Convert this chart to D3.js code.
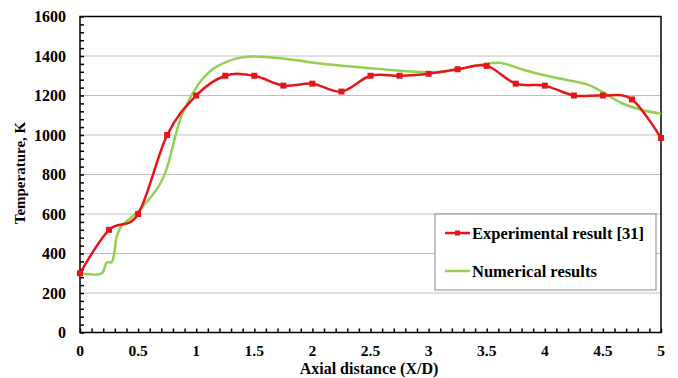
<!DOCTYPE html>
<html>
<head>
<meta charset="utf-8">
<script src="https://cdn.jsdelivr.net/npm/d3@7"></script>
<style>
  body { margin: 0; background: #fff; }
</style>
</head>
<body>
<div id="container"></div>
<script>
const width = 678;
const height = 378;

// experimental points (red)
const expX = [0, 0.25, 0.5, 0.75, 1, 1.25, 1.5, 1.75, 2, 2.25, 2.5, 2.75, 3, 3.25, 3.5, 3.75, 4, 4.25, 4.5, 4.75, 5];
const expT = [300, 520, 600, 1000, 1200, 1300, 1300, 1250, 1260, 1220, 1300, 1300, 1310, 1333, 1350, 1260, 1250, 1200, 1200, 1180, 985];

// numerical results (green)
const numX = [0, 0.187, 0.23, 0.273, 0.316, 0.345, 0.388, 0.5, 0.59, 0.675, 0.733, 0.776, 0.82, 0.862, 0.905, 0.963, 1.05, 1.135, 1.25, 1.35, 1.48, 1.78, 2.07, 2.36, 2.64, 2.93, 3.1, 3.28, 3.45, 3.62, 3.79, 3.97, 4.17, 4.37, 4.51, 4.66, 4.83, 5];
const numT = [300, 300, 354, 357, 486, 528, 557, 613, 672, 739, 807, 891, 993, 1078, 1137, 1204, 1281, 1331, 1368, 1388, 1398, 1385, 1362, 1345, 1331, 1319, 1319, 1335, 1356, 1365, 1335, 1306, 1281, 1255, 1213, 1162, 1128, 1108];

const xTicks = [0, 0.5, 1, 1.5, 2, 2.5, 3, 3.5, 4, 4.5, 5];
const yTicks = [0, 200, 400, 600, 800, 1000, 1200, 1400, 1600];

const x = d3.scaleLinear().domain([0, 5]).range([80, 661]);
const y = d3.scaleLinear().domain([0, 1600]).range([332.5, 16.5]);

const svg = d3.select("div#container")
    .append("svg")
    .attr("width", width)
    .attr("height", height)
    .attr("viewBox", [0, 0, width, height])
    .attr("font-family", "Liberation Serif, DejaVu Serif, serif")
    .attr("font-weight", "bold");

// gridlines
svg.append("g")
    .selectAll("line")
    .data(yTicks.filter(d => d > 0 && d < 1600))
    .join("line")
    .attr("x1", x(0)).attr("x2", x(5))
    .attr("y1", d => y(d)).attr("y2", d => y(d))
    .attr("stroke", "#c0c0c0")
    .attr("stroke-width", 1);

// frame
svg.append("rect")
    .attr("x", x(0)).attr("y", y(1600))
    .attr("width", x(5) - x(0)).attr("height", y(0) - y(1600))
    .attr("fill", "none")
    .attr("stroke", "#000")
    .attr("stroke-width", 1.5);

// minor ticks, pointing inward
svg.append("g")
    .call(d3.axisBottom(x).tickValues(d3.range(0, 51).map(i => i / 10)).tickSize(-4).tickFormat(""))
    .attr("transform", `translate(0,${y(0)})`)
    .call(g => g.select(".domain").remove())
    .call(g => g.selectAll(".tick line").attr("stroke", "#000").attr("stroke-width", 1.5));

svg.append("g")
    .call(d3.axisLeft(y).tickValues(d3.range(0, 41).map(i => i * 40)).tickSize(-4).tickFormat(""))
    .attr("transform", `translate(${x(0)},0)`)
    .call(g => g.select(".domain").remove())
    .call(g => g.selectAll(".tick line").attr("stroke", "#000").attr("stroke-width", 1.5));

// tick labels
svg.append("g")
    .selectAll("text")
    .data(xTicks)
    .join("text")
    .attr("x", d => x(d))
    .attr("y", 356)
    .attr("text-anchor", "middle")
    .attr("font-size", 15.5)
    .text(d => d);

svg.append("g")
    .selectAll("text")
    .data(yTicks)
    .join("text")
    .attr("x", 66)
    .attr("y", d => y(d))
    .attr("dy", "0.35em")
    .attr("text-anchor", "end")
    .attr("font-size", 16)
    .text(d => d);

// axis titles
svg.append("text")
    .attr("x", 369).attr("y", 374)
    .attr("text-anchor", "middle")
    .attr("font-size", 16)
    .text("Axial distance (X/D)");

svg.append("text")
    .attr("transform", "translate(25,173) rotate(-90)")
    .attr("text-anchor", "middle")
    .attr("font-size", 15)
    .text("Temperature, K");

// lines
const numLine = d3.line().x(d => x(d[0])).y(d => y(d[1])).curve(d3.curveCatmullRom.alpha(0.5));
const expLine = d3.line().x(d => x(d[0])).y(d => y(d[1])).curve(d3.curveCardinal.tension(0));

const numData = numX.map((v, i) => [v, numT[i]]);
const expData = expX.map((v, i) => [v, expT[i]]);

svg.append("path")
    .datum(numData)
    .attr("d", numLine)
    .attr("fill", "none")
    .attr("stroke", "#92d050")
    .attr("stroke-width", 2.5);

svg.append("path")
    .datum(expData)
    .attr("d", expLine)
    .attr("fill", "none")
    .attr("stroke", "#e8141a")
    .attr("stroke-width", 2.5);

svg.append("g")
    .selectAll("rect")
    .data(expData)
    .join("rect")
    .attr("x", d => x(d[0]) - 3)
    .attr("y", d => y(d[1]) - 3)
    .attr("width", 6).attr("height", 6)
    .attr("fill", "#e8141a");

// legend
const legend = svg.append("g");
legend.append("rect")
    .attr("x", 435).attr("y", 214)
    .attr("width", 221).attr("height", 76)
    .attr("fill", "#fff")
    .attr("stroke", "#888")
    .attr("stroke-width", 1);

const items = [
    {label: "Experimental result [31]", color: "#e8141a", marker: true, y: 233},
    {label: "Numerical results", color: "#92d050", marker: false, y: 271}
];

items.forEach(it => {
    legend.append("line")
        .attr("x1", 445).attr("x2", 470)
        .attr("y1", it.y).attr("y2", it.y)
        .attr("stroke", it.color)
        .attr("stroke-width", 2.5);
    if (it.marker) {
        legend.append("rect")
            .attr("x", 455).attr("y", it.y - 2.5)
            .attr("width", 5).attr("height", 5)
            .attr("fill", it.color);
    }
    legend.append("text")
        .attr("x", 472).attr("y", it.y)
        .attr("dy", "0.35em")
        .attr("font-size", 16.5)
        .text(it.label);
});
</script>
</body>
</html>
